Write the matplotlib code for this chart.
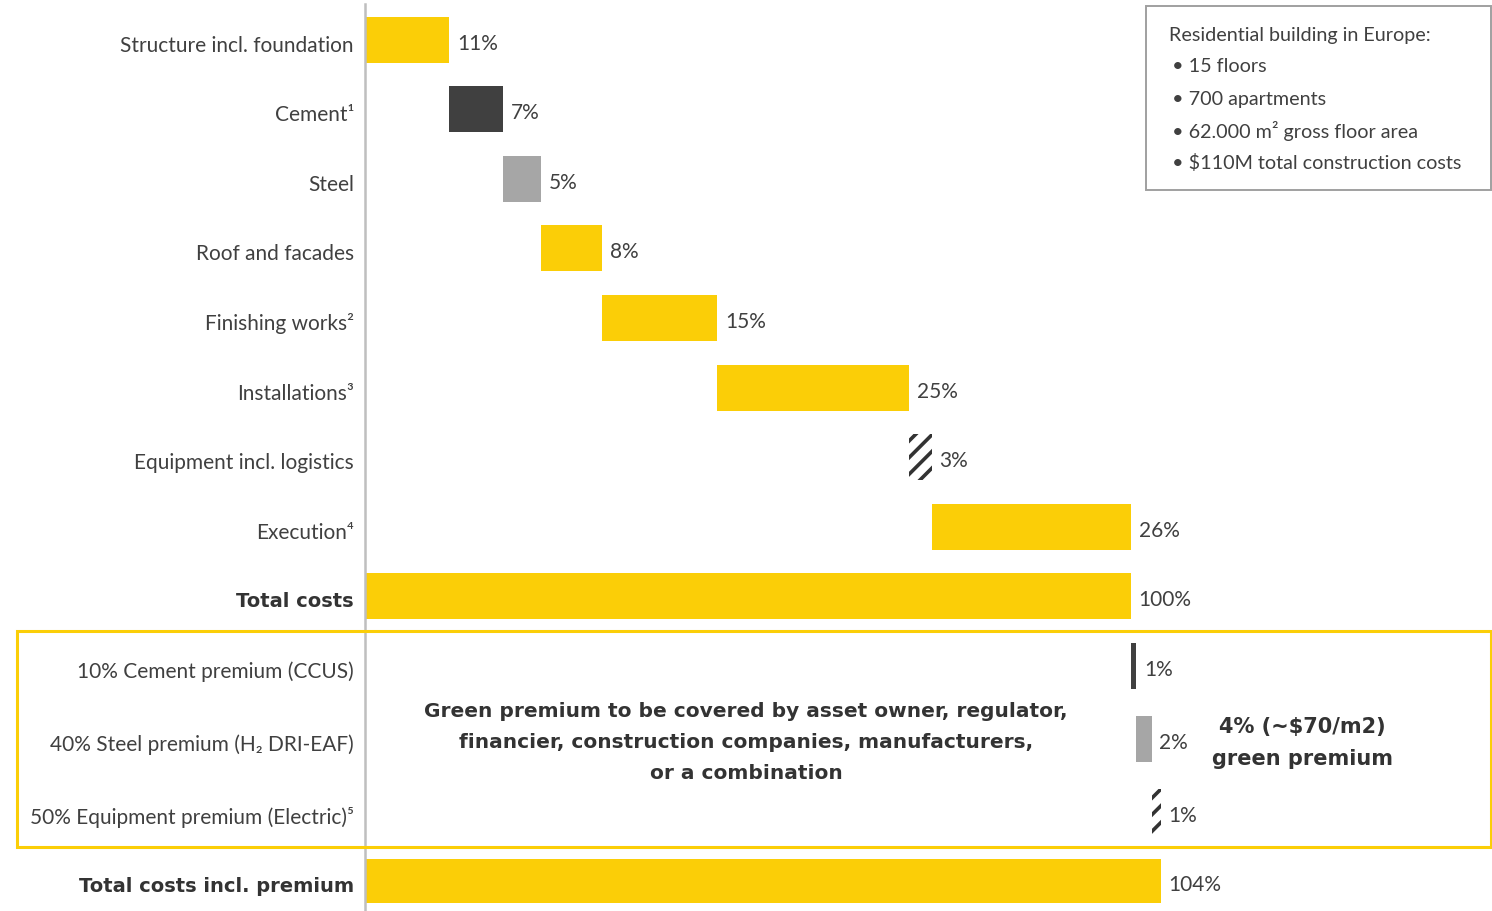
import matplotlib
matplotlib.use("Agg")
import matplotlib.pyplot as plt
import matplotlib.transforms as mtransforms
from matplotlib.patches import Rectangle

plt.rcParams['font.family'] = ['Lato', 'DejaVu Sans']
plt.rcParams['hatch.linewidth'] = 2.6
plt.rcParams['hatch.color'] = '#333333'

# ---- data ----
categories = ["Structure incl. foundation", "Cement¹", "Steel", "Roof and facades",
              "Finishing works²", "Installations³", "Equipment incl. logistics", "Execution⁴"]
cost_values = [11, 7, 5, 8, 15, 25, 3, 26]
cost_kinds = ["yellow", "dark", "gray", "yellow", "yellow", "yellow", "hatch", "yellow"]

total_label = "Total costs"
total_value = 100

premium_categories = ["10% Cement premium (CCUS)", "40% Steel premium (H₂ DRI-EAF)",
                      "50% Equipment premium (Electric)⁵"]
premium_values = [0.7, 2.0, 1.2]
premium_labels = ["1%", "2%", "1%"]
premium_kinds = ["dark", "gray", "hatch"]

grand_label = "Total costs incl. premium"
grand_value_label = "104%"

info_lines = ["Residential building in Europe:", "• 15 floors", "• 700 apartments",
              "• 62.000 m² gross floor area", "• $110M total construction costs"]
green_text = "Green premium to be covered by asset owner, regulator,\nfinancier, construction companies, manufacturers,\nor a combination"
premium_note = "4% (~$70/m2)\ngreen premium"

# ---- style ----
YELLOW = "#FBCE07"
DARK = "#404040"
GRAY = "#A6A6A6"
TXT = "#404040"
BOLD_FONT = ['DejaVu Sans']

W, H = 1492, 912
fig = plt.figure(figsize=(W / 100, H / 100), dpi=100)
x0 = 365
ax = fig.add_axes([x0 / W, 0, 1 - x0 / W, 1])
pxu = 7.66  # pixels per percent
ax.set_xlim(0, (W - x0) / pxu)
ax.set_ylim(H, 0)

row_y = [41, 110, 180, 249, 319, 389, 458, 528]
total_y = 597
prem_y = [667, 740, 813]
grand_y = 882
bh = 46
dy = 3  # text baseline offset (px) relative to bar centre

down = mtransforms.ScaledTranslation(0, -dy / 100, fig.dpi_scale_trans)


def draw_bar(y, left, width, kind, h=bh):
    if kind == "hatch":
        ax.barh(y, width, left=left, height=h, color="white", hatch="//",
                edgecolor="#333333", linewidth=0)
    else:
        col = {"yellow": YELLOW, "dark": DARK, "gray": GRAY}[kind]
        ax.barh(y, width, left=left, height=h, color=col, linewidth=0)


def value_label(x, y, s):
    ax.text(x + 1.0, y, s, va="center", ha="left", fontsize=15, color=TXT,
            transform=ax.transData + down)


cum = 0
for y, v, k in zip(row_y, cost_values, cost_kinds):
    draw_bar(y, cum, v, k)
    value_label(cum + v, y, f"{v}%")
    cum += v

draw_bar(total_y, 0, total_value, "yellow")
value_label(total_value, total_y, f"{total_value}%")

cum = total_value
for y, v, lab, k in zip(prem_y, premium_values, premium_labels, premium_kinds):
    draw_bar(y, cum, v, k)
    value_label(cum + v, y, lab)
    cum += v

grand_value = total_value + sum(premium_values)
draw_bar(grand_y, 0, grand_value, "yellow", h=44)
value_label(grand_value, grand_y, grand_value_label)

# y tick labels
all_y = row_y + [total_y] + prem_y + [grand_y]
all_labels = categories + [total_label] + premium_categories + [grand_label]
ax.set_yticks(all_y)
ax.set_yticklabels(all_labels, fontsize=15, color=TXT)
ax.tick_params(axis="y", length=0, pad=8)
for t in ax.get_yticklabels():
    t.set_transform(t.get_transform() + down)
    if t.get_text() in (total_label, grand_label):
        t.set_fontweight("bold")
        t.set_family(BOLD_FONT)
        t.set_fontsize(14)
        t.set_color("#333333")
ax.set_xticks([])
for s in ["top", "right", "bottom"]:
    ax.spines[s].set_visible(False)
ax.spines["left"].set_color("#BFBFBF")
ax.spines["left"].set_linewidth(1.8)
ax.spines["left"].set_bounds(5, H)

# green premium texts
ax.text((746 - x0) / pxu, 743, green_text, ha="center", va="center", fontsize=14.5,
        fontweight="bold", family=BOLD_FONT, color="#333333", linespacing=1.8)
ax.text((1302 - x0) / pxu, 743, premium_note, ha="center", va="center", fontsize=15,
        fontweight="bold", family=BOLD_FONT, color="#333333", linespacing=1.75)

# yellow premium box
fig.patches.append(Rectangle((17 / W, 1 - 848 / H), (1491 - 17) / W, (848 - 632) / H,
                             transform=fig.transFigure, fill=False, edgecolor=YELLOW,
                             linewidth=2.2))

# info box
fig.patches.append(Rectangle((1146 / W, 1 - 191 / H), (1491 - 1146) / W, (191 - 7) / H,
                             transform=fig.transFigure, fill=False, edgecolor="#A0A0A0",
                             linewidth=1.4))
info_y = [36, 67, 99, 131, 163]
for yy, line in zip(info_y, info_lines):
    xx = 1169 if not line.startswith("•") else 1172
    fig.text(xx / W, 1 - yy / H, line, ha="left", va="center", fontsize=14.2, color=TXT)

fig.savefig("out.png", dpi=100)
